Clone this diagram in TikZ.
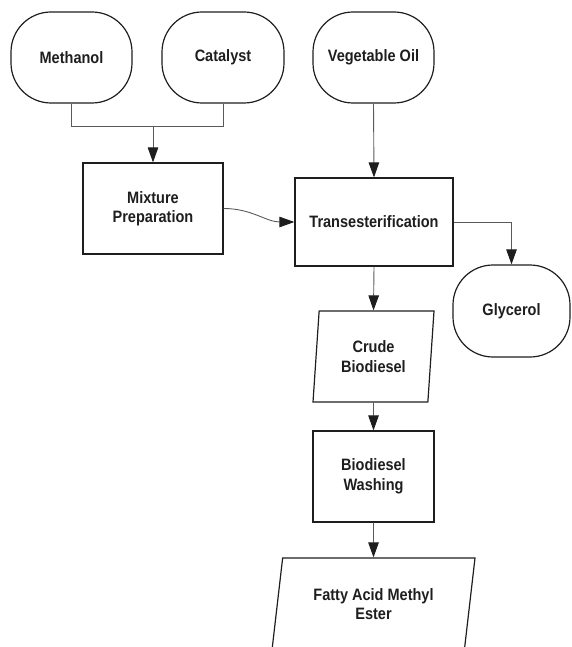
\documentclass[tikz,border=0pt]{standalone}
\usepackage{fontspec}
\setmainfont{Liberation Sans}[FakeStretch=0.88]
\usetikzlibrary{arrows.meta,shapes.geometric}
\definecolor{ink}{HTML}{1E1E1E}
\definecolor{wire}{HTML}{5A5A5A}
\tikzset{
  txt/.style={font=\bfseries\fontsize{16.5}{19.5}\selectfont, text=ink, align=center, inner sep=0pt},
  terminal/.style={txt, draw=ink, line width=1.2pt, rounded corners=40pt},
  procbox/.style={txt, draw=ink, line width=1.2pt},
  iobox/.style={txt, draw=ink, line width=1.2pt, trapezium, trapezium stretches body},
  wireline/.style={draw=wire, line width=0.9pt},
  flow/.style={wireline, -{Triangle[length=15pt,width=10.5pt,fill=ink,color=ink]}}
}
\begin{document}
\begin{tikzpicture}[x=1pt,y=-1pt]
\useasboundingbox (0,0) rectangle (571,647);
\clip (0,0) rectangle (571,647);
\node[terminal, minimum width=121pt, minimum height=91pt] (meth) at (71.5,57.5) {Methanol};
\node[terminal, minimum width=122pt, minimum height=91pt] (cat) at (223,57.5) {Catalyst};
\node[terminal, minimum width=121pt, minimum height=91pt] (veg) at (373.5,57.5) {Vegetable Oil};
\node[procbox, minimum width=140pt, minimum height=91pt] (mix) at (153,208.5) {Mixture\\Preparation};
\node[procbox, minimum width=158pt, minimum height=88pt] (trans) at (374,222) {Transesterification};
\node[terminal, minimum width=117pt, minimum height=92pt] (gly) at (511.5,311) {Glycerol};
\node[iobox, trapezium left angle=79, trapezium right angle=101, minimum width=121pt, minimum height=91pt] (crude) at (373.5,356.5) {Crude\\Biodiesel};
\node[procbox, minimum width=121pt, minimum height=91pt] (wash) at (373.5,476.5) {Biodiesel\\Washing};
\node[iobox, trapezium left angle=71.4, trapezium right angle=108.6, minimum width=203pt, minimum height=92pt] (fame) at (373.5,604) {Fatty Acid Methyl\\Ester};
\coordinate (join) at (153,126);
\draw[wireline] (meth.south) -- (meth.south |- join) -- (cat.south |- join) -- (cat.south);
\draw[flow] (join) -- (mix.north);
\draw[flow] (veg.south) -- (trans.north);
\draw[flow] (mix.east) to[out=0,in=180] (trans.west);
\draw[flow] (trans.east) -| (gly.north);
\draw[flow] (trans.south) -- (crude.north);
\draw[flow] (crude.south) -- (wash.north);
\draw[flow] (wash.south) -- (fame.north);
\end{tikzpicture}
\end{document}
